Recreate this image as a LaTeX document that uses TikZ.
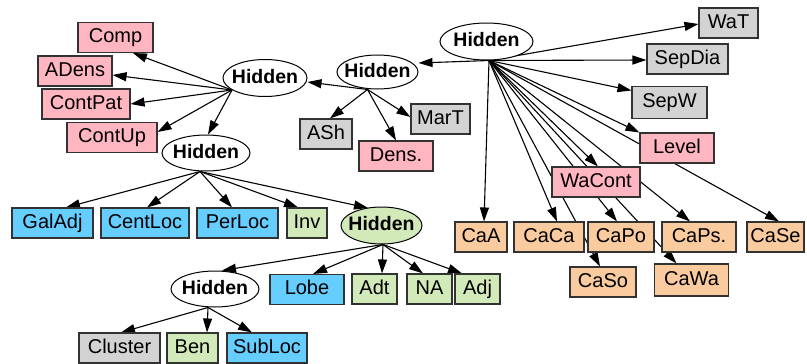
\documentclass[tikz,border=0pt]{standalone}
\usepackage{fontspec}
\setmainfont{Liberation Sans}
\usetikzlibrary{arrows.meta,backgrounds,shapes.geometric}
\definecolor{boxpink}{RGB}{255,182,193}
\definecolor{boxgray}{RGB}{211,211,211}
\definecolor{boxblue}{RGB}{102,206,255}
\definecolor{boxgreen}{RGB}{210,233,186}
\definecolor{boxpeach}{RGB}{249,203,158}
\definecolor{rim}{RGB}{50,50,50}
\begin{document}
\begin{tikzpicture}[x=1pt,y=-1pt,
  box/.style={rectangle, draw=rim, line width=1.1pt, minimum height=30pt,
    inner sep=0pt, text height=14.5pt, text depth=4pt,
    font=\fontsize{20}{23}\selectfont},
  pinkbox/.style={box, fill=boxpink},
  graybox/.style={box, fill=boxgray},
  bluebox/.style={box, fill=boxblue},
  greenbox/.style={box, fill=boxgreen},
  peachbox/.style={box, fill=boxpeach},
  hid/.style={ellipse, draw=black, line width=1pt, fill=white, inner sep=0pt,
    text height=14pt, text depth=4pt,
    font=\bfseries\fontsize{19.5}{22}\selectfont},
  link/.style={-{Triangle[length=14pt,width=9pt]}, line width=1.1pt, draw=black}]
\useasboundingbox (0,0) rectangle (807,364);

% latent nodes
\node[hid, minimum width=93pt, minimum height=37pt] (h0) at (486.5,41.5) {\makebox[0pt]{Hidden}};
\node[hid, minimum width=81pt, minimum height=34pt] (h2) at (377.5,72) {\makebox[0pt]{Hidden}};
\node[hid, minimum width=84pt, minimum height=37pt] (h1) at (265,78) {\makebox[0pt]{Hidden}};
\node[hid, minimum width=88pt, minimum height=36pt] (h3) at (206,153) {\makebox[0pt]{Hidden}};
\node[hid, fill=boxgreen, minimum width=81pt, minimum height=37pt] (h4) at (381.5,225.5) {\makebox[0pt]{Hidden}};
\node[hid, minimum width=88pt, minimum height=36pt] (h5) at (215,289) {\makebox[0pt]{Hidden}};

% observed variables
\node[pinkbox, minimum width=75pt] (comp) at (115.5,37.5) {Comp};
\node[pinkbox, minimum width=74pt] (adens) at (75,71) {ADens};
\node[pinkbox, minimum width=88pt] (contpat) at (86,104) {ContPat};
\node[pinkbox, minimum width=90pt] (contup) at (112,137.5) {ContUp};

\node[graybox, minimum width=52pt] (ash) at (326,134) {ASh};
\node[pinkbox, minimum width=74pt] (dens) at (396,156) {Dens.};
\node[graybox, minimum width=59pt] (mart) at (440.5,119) {MarT};

\node[graybox, minimum width=59pt] (wat) at (728.5,23) {WaT};
\node[graybox, minimum width=81pt] (sepdia) at (687.5,59) {SepDia};
\node[graybox, minimum width=75pt, minimum height=32pt] (sepw) at (669.5,102.5) {SepW};
\node[pinkbox, minimum width=74pt] (level) at (677,148) {Level};
\node[pinkbox, minimum width=88pt] (wacont) at (596,182) {WaCont};

\node[peachbox, minimum width=52pt] (caa) at (481,237) {CaA};
\node[peachbox, minimum width=70pt] (caca) at (549,237) {CaCa};
\node[peachbox, minimum width=66pt] (capo) at (621,237) {CaPo};
\node[peachbox, minimum width=74pt] (caps) at (699,237) {CaPs.};
\node[peachbox, minimum width=57pt] (case) at (775.5,237) {CaSe};
\node[peachbox, minimum width=66pt] (caso) at (603,282) {CaSo};
\node[peachbox, minimum width=74pt, minimum height=32pt] (cawa) at (691.5,280) {CaWa};

\node[bluebox, minimum width=81pt] (galadj) at (52.5,223) {GalAdj};
\node[bluebox, minimum width=88pt] (centloc) at (145,223) {CentLoc};
\node[bluebox, minimum width=81pt] (perloc) at (237.5,223) {PerLoc};
\node[greenbox, minimum width=40pt] (inv) at (307,223) {Inv};

\node[bluebox, minimum width=74pt] (lobe) at (307,289.5) {Lobe};
\node[greenbox, minimum width=45pt] (adt) at (374.5,289) {Adt};
\node[greenbox, minimum width=45pt] (na) at (429.5,289) {NA};
\node[greenbox, minimum width=45pt] (adj) at (477.5,289) {Adj};

\node[graybox, minimum width=81pt] (cluster) at (119.5,348) {Cluster};
\node[greenbox, minimum width=51pt] (ben) at (192.5,348) {Ben};
\node[bluebox, minimum width=80pt] (subloc) at (267,348) {SubLoc};

% edge origins on each latent node
\coordinate (t0) at ([xshift=2.5pt]h0.south);
\coordinate (t1) at ([shift={(-33,12)}]h1.center);
\coordinate (t2) at ([xshift=-10pt]h2.south);
\coordinate (t3) at ([xshift=-6pt]h3.south);
\coordinate (t4) at ([xshift=1.5pt]h4.south);
\coordinate (t5) at ([xshift=-7pt]h5.south);

\begin{pgfonlayer}{background}
% top latent node
\draw[link] (t0) -- ([shift={(41,-9)}]h2.center);
\draw[link] (t0) -- ([yshift=-1pt]wat.west);
\draw[link] (t0) -- ([yshift=-1pt]sepdia.west);
\draw[link] (t0) -- ([yshift=12pt]sepw.west);
\draw[link] (t0) -- (level.north west);
\draw[link] (t0) -- ([xshift=3.5pt]case.north);
\draw[link] (t0) -- ([xshift=-9pt]caps.north);
\draw[link] (t0) -- ([xshift=2pt]wacont.north);
\draw[link] (t0) -- ([xshift=-4pt]capo.north);
\draw[link] (t0) -- ([xshift=-15pt]cawa.north);
\draw[link] (t0) -- ([xshift=-3pt]caso.north);
\draw[link] (t0) -- ([xshift=8pt]caca.north);
\draw[link] (t0) -- ([xshift=3pt]caa.north);
% second latent node
\draw[link] (t2) -- ([yshift=-4pt]h1.east);
\draw[link] (t2) -- ([xshift=4pt]ash.north);
\draw[link] (t2) -- (dens.north);
\draw[link] (t2) -- ([yshift=2pt]mart.west);
% left latent node
\draw[link] (t1) -- ([xshift=17.5pt]comp.south);
\draw[link] (t1) -- ([yshift=-4pt]adens.east);
\draw[link] (t1) -- (contpat.east);
\draw[link] (t1) -- ([yshift=5.5pt]contup.east);
\draw[link] (t1) -- ([xshift=2pt]h3.north);
% middle latent node
\draw[link] (t3) -- ([xshift=13.5pt]galadj.north);
\draw[link] (t3) -- ([xshift=2pt]centloc.north);
\draw[link] (t3) -- ([xshift=-5.5pt]perloc.north);
\draw[link] (t3) -- ([xshift=-9pt]inv.north);
\draw[link] (t3) -- ([shift={(-13.5,-17.5)}]h4.center);
% green latent node
\draw[link] (t4) -- ([xshift=7pt]h5.north);
\draw[link] (t4) -- ([xshift=6pt]lobe.north);
\draw[link] (t4) -- ([xshift=7.5pt]adt.north);
\draw[link] (t4) -- ([xshift=-6.5pt]na.north);
\draw[link] (t4) -- ([xshift=-15.5pt]adj.north);
% bottom latent node
\draw[link] (t5) -- ([xshift=1.5pt]cluster.north);
\draw[link] (t5) -- ([xshift=14.5pt]ben.north);
\draw[link] (t5) -- ([xshift=-15pt]subloc.north);
\end{pgfonlayer}
\end{tikzpicture}
\end{document}
